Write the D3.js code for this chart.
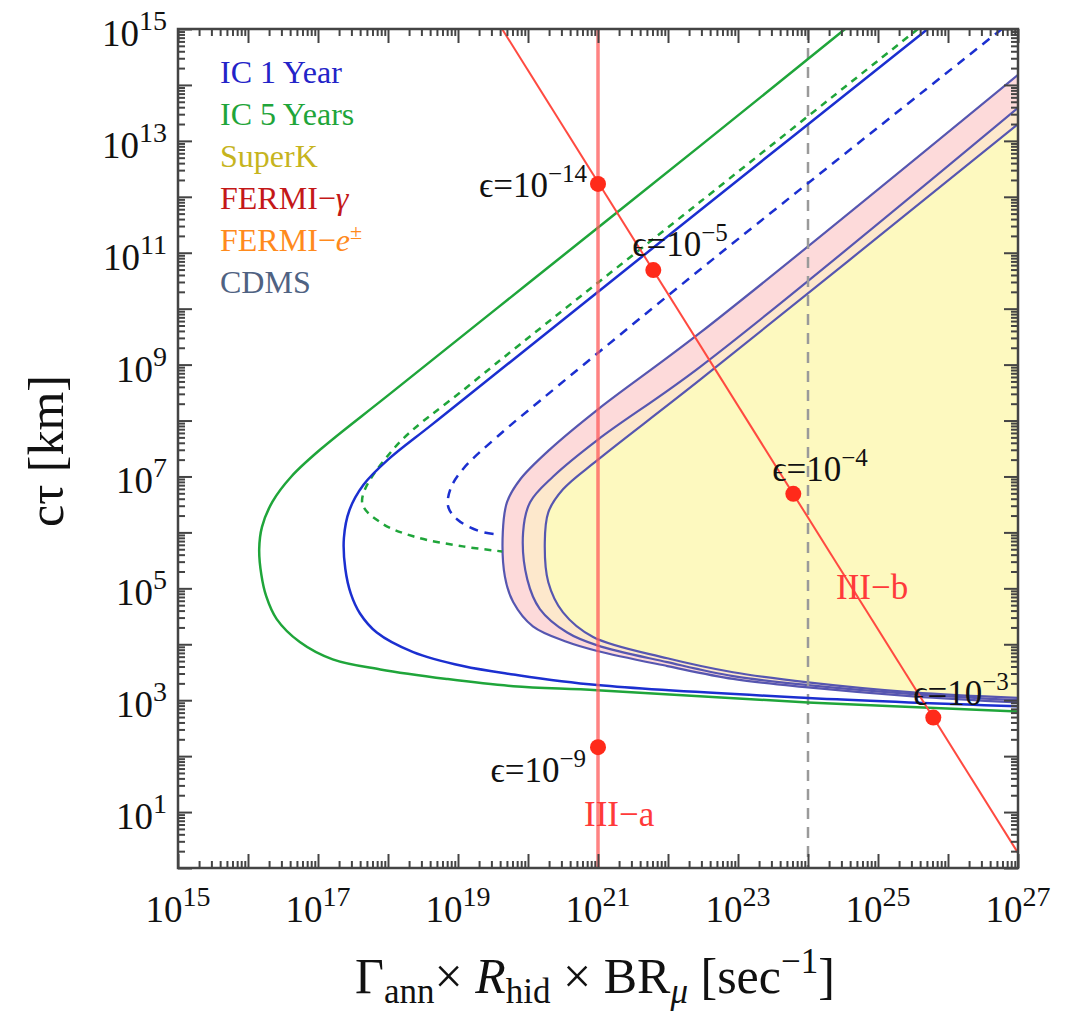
<!DOCTYPE html>
<html>
<head>
<meta charset="utf-8">
<script src="https://cdn.jsdelivr.net/npm/d3@7"></script>
<style>
body { margin: 0; background: #fff; }
text { font-family: "Liberation Serif", "DejaVu Serif", serif; }
</style>
</head>
<body>
<script>
// all curves are [log10(rate), log10(c tau)]
var ic5Solid = [[24.53,15],[22.46,12.91],[20.0,10.45],[18.0,8.45],[17.05,7.5],[16.62,7.0],[16.35,6.55],[16.2,6.1],[16.16,5.7],
  [16.19,5.25],[16.26,4.86],[16.41,4.45],[16.74,4.04],[17.21,3.73],[17.89,3.55],[18.84,3.38],[19.79,3.25],[20.99,3.18],[24.0,2.96],[27,2.8]];
var ic1Solid = [[25.71,15],[22.46,11.76],[19.5,8.8],[18.6,7.9],[18.0,7.3],[17.65,6.85],[17.45,6.4],[17.37,5.9],[17.39,5.35],
  [17.47,4.9],[17.6,4.55],[17.84,4.21],[18.36,3.86],[19.07,3.61],[19.79,3.46],[20.99,3.27],[24.0,3.04],[27,2.89]];
var ic5Dashed = [[25.57,15],[22.46,11.91],[19.21,8.68],[18.07,7.48],[17.63,6.54],[17.89,6.18],[18.36,5.93],[19.07,5.75],[19.63,5.66]];
var ic1Dashed = [[26.77,15],[22.46,10.7],[20.41,8.6],[19.56,7.71],[19.07,7.13],[18.89,6.77],[18.86,6.46],[18.99,6.23],[19.31,6.02],[19.6,5.96]];

var fermiGammaEdge = [[27,14.18],[22.46,9.57],[21.0,8.2],[20.31,7.48],[19.89,6.95],[19.7,6.54],[19.64,6.0],[19.67,5.21],
  [19.79,4.75],[20.07,4.32],[20.56,4.04],[20.99,3.88],[21.99,3.61],[22.93,3.38],[24.0,3.23],[25.5,3.07],[27,2.96]];
var fermiEEdge = [[27,13.59],[22.46,8.96],[21.0,7.66],[20.36,7.0],[20.03,6.54],[19.93,6.0],[19.99,5.16],[20.17,4.63],
  [20.56,4.21],[20.99,3.98],[21.99,3.68],[22.93,3.43],[24.0,3.27],[25.5,3.11],[27,3.0]];
var superKEdge = [[27,13.3],[22.46,8.73],[21.0,7.3],[20.5,6.77],[20.29,6.36],[20.24,5.82],[20.29,5.11],[20.5,4.57],
  [20.93,4.13],[21.99,3.75],[22.93,3.5],[24.0,3.32],[25.5,3.14],[27,3.04]];

var iiiaRate = 21;
var iiiaDots = [[21, 12.23, "−14"], [21, 2.16, "−9"]];
var iiibLine = [[19.63, 15], [27, 0.27]];
var iiibDots = [[21.79, 10.69, "−5"], [23.79, 6.69, "−4"], [25.79, 2.69, "−3"]];
var grayRate = 24;

var xTickExps = [15, 17, 19, 21, 23, 25, 27];
var yTickExps = [1, 3, 5, 7, 9, 11, 13, 15];

var legendNames = ["IC 1 Year", "IC 5 Years", "SuperK", "FERMI−", "FERMI−", "CDMS"];
var legendTails = ["", "", "", "γ", "e", ""];
var legendColors = ["#2323c8", "#1fa53a", "#c6b41e", "#c41818", "#ff8a1c", "#4f6282"];

var margin = {top: 29, right: 59, bottom: 147, left: 178};
var graphWidth = 1077 - margin.left - margin.right;
var graphHeight = 1015 - margin.top - margin.bottom;

var svg = d3.select("body").append("svg")
    .attr("width", 1077)
    .attr("height", 1015);

var graph = svg.append("g")
    .attr("transform", "translate(" + margin.left + "," + margin.top + ")");

var x = d3.scaleLog().domain([1e15, 1e27]).range([0, graphWidth]);
var y = d3.scaleLog().domain([1, 1e15]).range([graphHeight, 0]);

function px(p) { return [x(Math.pow(10, p[0])), y(Math.pow(10, p[1]))]; }

var line = d3.line().curve(d3.curveCatmullRom.alpha(0.5));

graph.append("clipPath").attr("id", "plotClip")
  .append("rect").attr("width", graphWidth).attr("height", graphHeight);

var plot = graph.append("g").attr("clip-path", "url(#plotClip)");

// filled bands
[[fermiGammaEdge, "#fddada"], [fermiEEdge, "#fde8cc"], [superKEdge, "#fdf9bf"]].forEach(function(b){
  plot.append("path")
    .attr("d", line(b[0].map(px)) + "Z")
    .attr("fill", b[1])
    .attr("stroke", "none");
});
[fermiGammaEdge, fermiEEdge, superKEdge].forEach(function(c){
  plot.append("path")
    .attr("d", line(c.map(px)))
    .attr("fill", "none")
    .attr("stroke", "#5656b0")
    .attr("stroke-width", 2.2);
});

// gray dashed
plot.append("line")
  .attr("x1", x(Math.pow(10, grayRate))).attr("x2", x(Math.pow(10, grayRate)))
  .attr("y1", 0).attr("y2", graphHeight)
  .attr("stroke", "#9a9a9a").attr("stroke-width", 2.5).attr("stroke-dasharray", "11,8");

// IceCube curves
plot.append("path").attr("d", line(ic5Dashed.map(px)))
  .attr("fill", "none").attr("stroke", "#1fa53a").attr("stroke-width", 2.5).attr("stroke-dasharray", "7,6");
plot.append("path").attr("d", line(ic1Dashed.map(px)))
  .attr("fill", "none").attr("stroke", "#1b2fd0").attr("stroke-width", 2.5).attr("stroke-dasharray", "9,7");
plot.append("path").attr("d", line(ic5Solid.map(px)))
  .attr("fill", "none").attr("stroke", "#1fa53a").attr("stroke-width", 2.5);
plot.append("path").attr("d", line(ic1Solid.map(px)))
  .attr("fill", "none").attr("stroke", "#1b2fd0").attr("stroke-width", 2.5);

// benchmark lines
plot.append("line")
  .attr("x1", x(Math.pow(10, iiiaRate))).attr("x2", x(Math.pow(10, iiiaRate)))
  .attr("y1", 0).attr("y2", graphHeight)
  .attr("stroke", "#ff5a5a").attr("stroke-opacity", 0.75).attr("stroke-width", 3.5);
plot.append("path").attr("d", d3.line()(iiibLine.map(px)))
  .attr("stroke", "#ff4a40").attr("stroke-width", 2).attr("fill", "none");

var dots = iiiaDots.concat(iiibDots);
plot.selectAll("circle.dot")
  .data(dots)
  .enter()
  .append("circle")
  .attr("class", "dot")
  .attr("cx", function(d){ return px(d)[0]; })
  .attr("cy", function(d){ return px(d)[1]; })
  .attr("r", 8)
  .attr("fill", "#ff2a1a");

// epsilon labels, offsets from each dot
var epsOffsets = [[-11, 13, "end"], [-12, 35, "end"], [-21, -14, "start"], [-21, -13, "start"], [-20, -13, "start"]];
var labels = graph.append("g").attr("clip-path", "url(#plotClip)");
dots.forEach(function(d, i){
  var p = px(d), o = epsOffsets[i];
  var t = labels.append("text")
    .attr("x", p[0] + o[0]).attr("y", p[1] + o[1])
    .attr("text-anchor", o[2])
    .attr("font-size", "35px")
    .attr("fill", "#111");
  t.append("tspan").text("ϵ=10");
  t.append("tspan").attr("dy", -15).attr("font-size", "25px").text(d[2]);
});

graph.append("text").attr("x", x(1e21) - 14).attr("y", 797)
  .attr("font-size", "35px").attr("fill", "#ff3a3a").text("III−a");
graph.append("text").attr("x", x(Math.pow(10, 24.4))).attr("y", 570)
  .attr("font-size", "35px").attr("fill", "#ff3a3a").text("III−b");

// legend
legendNames.forEach(function(n, i){
  var t = graph.append("text")
    .attr("x", 42).attr("y", 54 + i * 42)
    .attr("font-size", "32px")
    .attr("fill", legendColors[i])
    .text(n);
  if (legendTails[i]) t.append("tspan").attr("font-style", "italic").text(legendTails[i]);
  if (i === 4) t.append("tspan").attr("dy", -12).attr("font-size", "22px").text("±");
});

// ticks on all four sides
var xMinor = [], yMinor = [];
d3.range(15, 27).forEach(function(d){ for (var k = 2; k < 10; k++) xMinor.push(k * Math.pow(10, d)); });
d3.range(0, 15).forEach(function(d){ for (var k = 2; k < 10; k++) yMinor.push(k * Math.pow(10, d)); });
var xMajor = d3.range(15, 28).map(function(e){ return Math.pow(10, e); });
var yMajor = d3.range(0, 16).map(function(e){ return Math.pow(10, e); });

function addAxis(axis, tr, vals, size){
  var g = graph.append("g").attr("transform", tr)
    .call(axis.tickValues(vals).tickSize(-size).tickFormat(""));
  g.select(".domain").remove();
  g.selectAll("line").attr("stroke", "#444").attr("stroke-width", 2);
}
addAxis(d3.axisBottom(x), "translate(0," + graphHeight + ")", xMajor, 14);
addAxis(d3.axisBottom(x), "translate(0," + graphHeight + ")", xMinor, 7);
addAxis(d3.axisTop(x), "translate(0,0)", xMajor, 14);
addAxis(d3.axisTop(x), "translate(0,0)", xMinor, 7);
addAxis(d3.axisLeft(y), "translate(0,0)", yMajor, 14);
addAxis(d3.axisLeft(y), "translate(0,0)", yMinor, 7);
addAxis(d3.axisRight(y), "translate(" + graphWidth + ",0)", yMajor, 14);
addAxis(d3.axisRight(y), "translate(" + graphWidth + ",0)", yMinor, 7);

graph.append("rect")
  .attr("width", graphWidth).attr("height", graphHeight)
  .attr("fill", "none").attr("stroke", "#444").attr("stroke-width", 2.5);

// tick labels
xTickExps.forEach(function(e){
  var t = graph.append("text")
    .attr("x", x(Math.pow(10, e))).attr("y", graphHeight + 54)
    .attr("text-anchor", "middle")
    .attr("font-size", "37px").attr("fill", "#111");
  t.append("tspan").text("10");
  t.append("tspan").attr("dy", -16).attr("font-size", "28px").text(e);
});
yTickExps.forEach(function(e){
  var t = graph.append("text")
    .attr("x", -11).attr("y", y(Math.pow(10, e)) + 17)
    .attr("text-anchor", "end")
    .attr("font-size", "37px").attr("fill", "#111");
  t.append("tspan").text("10");
  t.append("tspan").attr("dy", -16).attr("font-size", "28px").text(e);
});

// axis titles
svg.append("text")
  .attr("transform", "translate(63,451)rotate(-90)")
  .attr("text-anchor", "middle")
  .attr("font-size", "50px")
  .attr("fill", "#111")
  .text("cτ [km]");

var xl = svg.append("text")
  .attr("x", 595).attr("y", 993)
  .attr("text-anchor", "middle")
  .attr("font-size", "50px")
  .attr("fill", "#111");
xl.append("tspan").text("Γ");
xl.append("tspan").attr("dy", 10).attr("font-size", "35px").text("ann");
xl.append("tspan").attr("dy", -10).text("× ");
xl.append("tspan").attr("font-style", "italic").text("R");
xl.append("tspan").attr("dy", 10).attr("font-size", "35px").text("hid");
xl.append("tspan").attr("dy", -10).text(" × BR");
xl.append("tspan").attr("dy", 10).attr("font-size", "35px").attr("font-style", "italic").text("μ");
xl.append("tspan").attr("dy", -10).text(" [sec");
xl.append("tspan").attr("dy", -20).attr("font-size", "35px").text("−1");
xl.append("tspan").attr("dy", 20).text("]");
</script>
</body>
</html>
